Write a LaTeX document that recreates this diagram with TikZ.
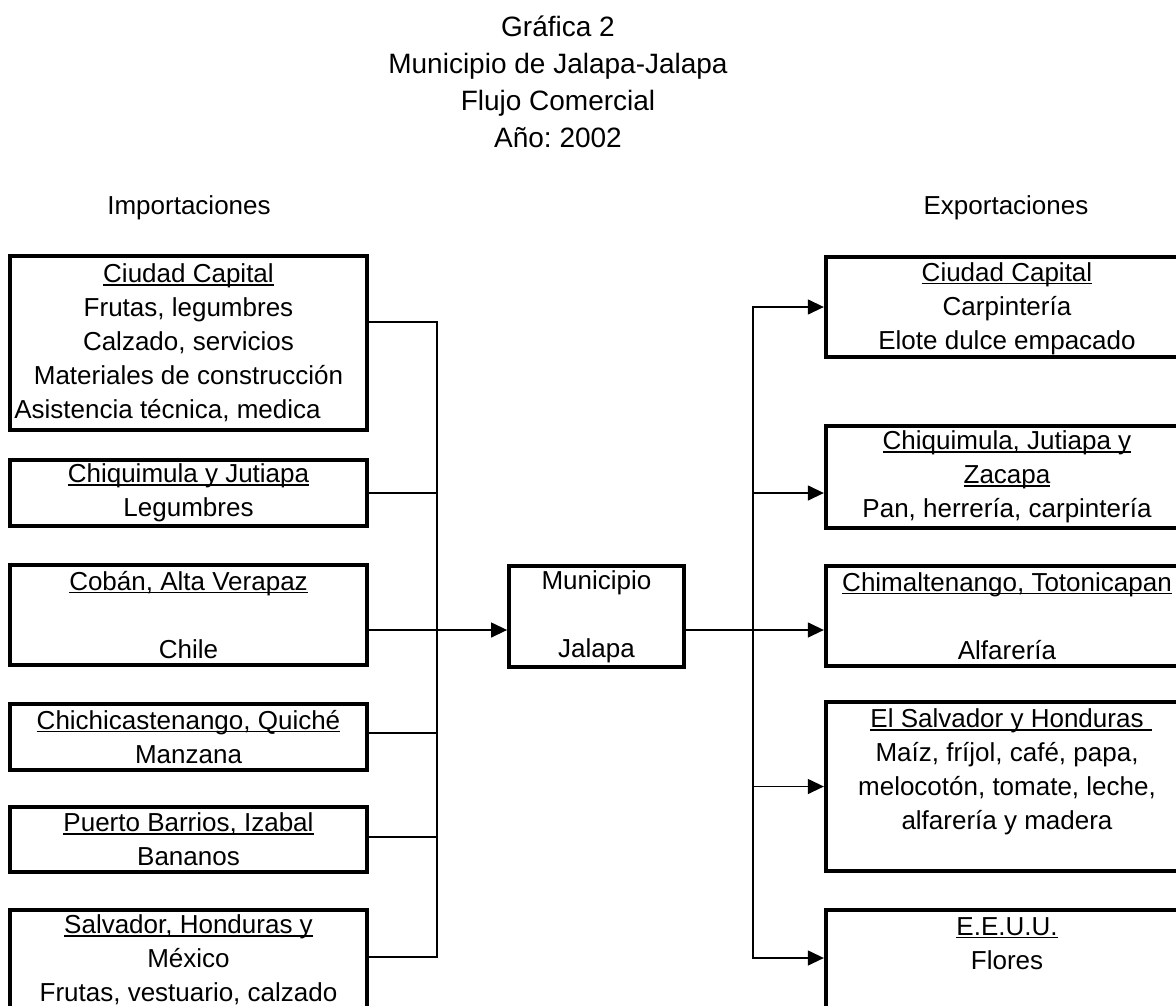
\documentclass[tikz,border=0pt]{standalone}
\usepackage{fontspec}
\setmainfont{Liberation Sans}
\usetikzlibrary{arrows.meta}
\frenchspacing
\newsavebox{\cajatexto}
\newcommand{\subr}[1]{\sbox{\cajatexto}{#1}\rlap{\rule[-3pt]{\wd\cajatexto}{1.6pt}}\usebox{\cajatexto}}
\tikzset{
    caja/.style={draw, line width=4.3pt, align=center, inner sep=0pt},
    izq/.style={caja, minimum width=357pt},
    der/.style={caja, minimum width=362pt},
    linea/.style={line width=1.3pt},
    flecha/.style={line width=1.3pt, -{Triangle[length=16pt,width=15pt]}}
}

\begin{document}
\begin{tikzpicture}[x=1pt, y=-1pt, every node/.style={font=\fontsize{26pt}{34pt}\selectfont}]
    \useasboundingbox (0,0) rectangle (1176,1005);
    \clip (0,0) rectangle (1176,1005);

    \node[align=center, font=\fontsize{28pt}{37pt}\selectfont] (titulo) at (558,82) {Gráfica 2\\Municipio de Jalapa-Jalapa\\Flujo Comercial\\Año: 2002};
    \node (imp) at (189,208) {Importaciones};
    \node (exp) at (1006,208) {Exportaciones};

    \node[izq, minimum height=174pt] (L1) at (188.5,343) {\subr{Ciudad Capital}\\Frutas, legumbres\\Calzado, servicios\\Materiales de construcción\\Asistencia técnica, medica\rule{42pt}{0pt}};
    \node[izq, minimum height=66pt] (L2) at (188.5,493) {\subr{Chiquimula y Jutiapa}\\Legumbres};
    \node[izq, minimum height=100pt] (L3) at (188.5,615) {\subr{Cobán, Alta Verapaz}\\~\\Chile};
    \node[izq, minimum height=66pt] (L4) at (188.5,737) {\subr{Chichicastenango, Quiché}\\Manzana};
    \node[izq, minimum height=65pt] (L5) at (188.5,839.5) {\subr{Puerto Barrios, Izabal}\\Bananos};
    \node[izq, minimum height=131pt] (L6) at (188.5,975.5) {\subr{Salvador, Honduras y}\\México\\Frutas, vestuario, calzado\\~};

    \node[caja, minimum width=174.5pt, minimum height=101pt] (M) at (596.5,616.5) {Municipio\\~\\Jalapa};

    \node[der, minimum height=100pt] (R1) at (1007,307) {\rule{0pt}{22pt}\subr{Ciudad Capital}\\Carpintería\\Elote dulce empacado};
    \node[der, minimum height=102pt] (R2) at (1007,477) {\subr{Chiquimula, Jutiapa y}\\\subr{Zacapa}\\Pan, herrería, carpintería};
    \node[der, minimum height=100pt] (R3) at (1007,616) {\subr{Chimaltenango, Totonicapan}\\~\\Alfarería};
    \node[der, minimum height=169pt] (R4) at (1007,786.5) {\subr{El Salvador y Honduras}\rlap{\rule[-3pt]{8pt}{1.6pt}}\\Maíz, fríjol, café, papa,\\melocotón, tomate, leche,\\alfarería y madera\\~};
    \node[der, minimum height=169pt] (R5) at (1007,994.5) {\subr{E.E.U.U.}\\Flores\\~\\~\\~};

    \coordinate (bi) at (437,630);
    \coordinate (bd) at (753,630);
    \draw[linea] ([yshift=21pt]L1.east) -| (bi);
    \draw[linea] (L2.east) -| (bi);
    \draw[linea] ([yshift=-15pt]L3.east) -- (bi);
    \draw[linea] ([yshift=4pt]L4.east) -| (bi);
    \draw[linea] ([yshift=2.5pt]L5.east) -| (bi);
    \draw[linea] ([yshift=18.5pt]L6.east) -| (bi);
    \draw[flecha] (bi) -- (bi -| M.west);
    \draw[linea] (M.east |- bd) -- (bd);
    \draw[flecha] (bd) |- (R1.west);
    \draw[flecha] (bd) |- ([yshift=-16pt]R2.west);
    \draw[flecha] (bd) -- (bd -| R3.west);
    \draw[flecha] (bd) |- (R4.west);
    \draw[flecha] (bd) |- ([yshift=36.5pt]R5.west);
\end{tikzpicture}
\end{document}
